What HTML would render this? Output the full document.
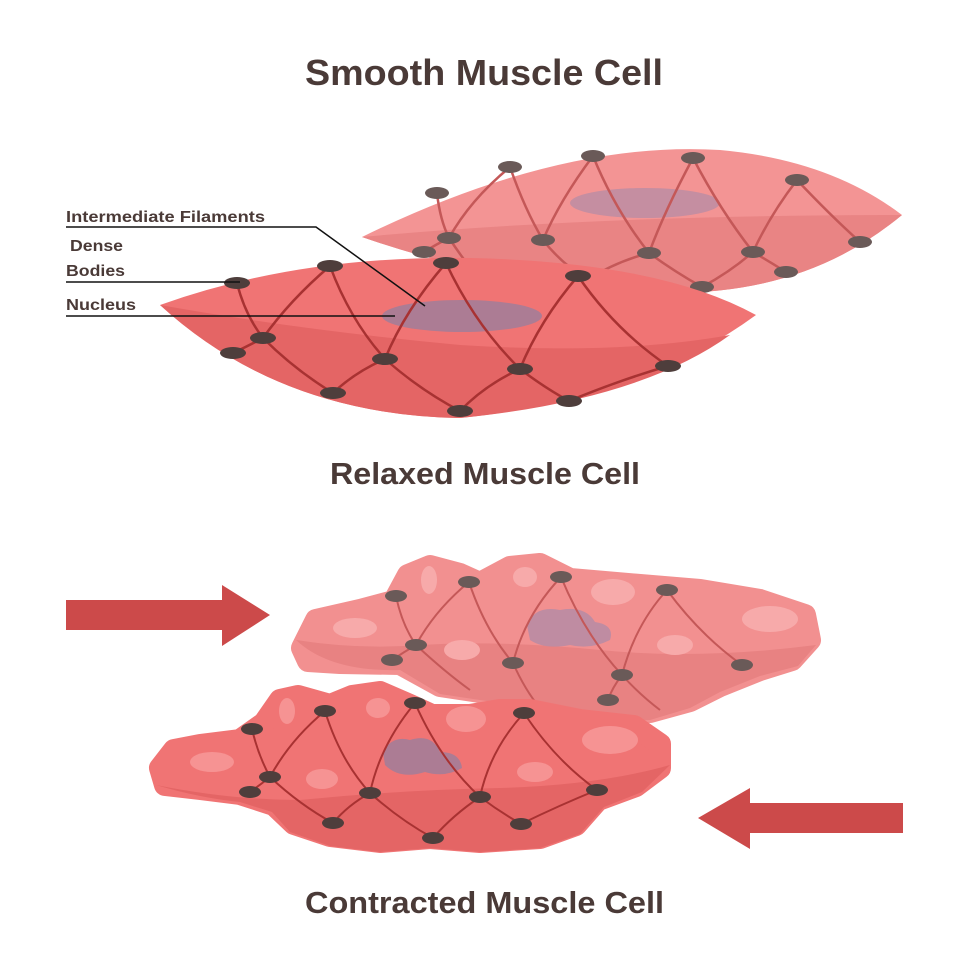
<!DOCTYPE html>
<html><head><meta charset="utf-8"><style>
html,body{margin:0;padding:0;background:#fff;}
svg{display:block;}
text{font-family:"Liberation Sans",sans-serif;font-weight:bold;fill:#4a3a37;}
</style></head><body>
<svg width="969" height="969" viewBox="0 0 969 969" xmlns="http://www.w3.org/2000/svg">
<rect width="969" height="969" fill="#fff"/>
<text x="305" y="85" font-size="36" textLength="358" lengthAdjust="spacingAndGlyphs">Smooth Muscle Cell</text>
<text x="330" y="484" font-size="31" textLength="310" lengthAdjust="spacingAndGlyphs">Relaxed Muscle Cell</text>
<text x="305" y="913" font-size="31" textLength="359" lengthAdjust="spacingAndGlyphs">Contracted Muscle Cell</text>

<!-- back relaxed cell -->
<path d="M362,237 Q560,140 720,150 Q830,160 902,215 Q800,300 650,292 Q500,285 362,237Z" fill="#f39494"/>
<path d="M362,237 Q600,215 902,215 Q800,300 650,292 Q500,285 362,237Z" fill="#e98484"/>
<ellipse cx="645" cy="203" rx="75" ry="15" fill="#b98ca4" opacity="0.8"/>
<g stroke="#c45858" stroke-width="2.5" fill="none">
<path d="M437,193 Q440,220 449,238 M510,167 Q470,200 449,238 M510,167 Q525,210 543,240 M593,156 Q560,200 543,240 M593,156 Q615,210 649,253 M693,158 Q665,210 649,253 M693,158 Q720,210 753,252 M797,180 Q770,215 753,252 M797,180 Q830,215 860,242 M449,238 Q435,245 424,252 M449,238 Q465,262 480,280 M543,240 Q560,262 587,280 M649,253 Q615,262 587,280 M649,253 Q675,272 702,287 M753,252 Q730,272 702,287 M753,252 Q770,262 786,272"/>
</g>
<g fill="#6a5a58">
<ellipse cx="437" cy="193" rx="12" ry="6"/><ellipse cx="510" cy="167" rx="12" ry="6"/><ellipse cx="593" cy="156" rx="12" ry="6"/><ellipse cx="693" cy="158" rx="12" ry="6"/><ellipse cx="797" cy="180" rx="12" ry="6"/><ellipse cx="449" cy="238" rx="12" ry="6"/><ellipse cx="543" cy="240" rx="12" ry="6"/><ellipse cx="649" cy="253" rx="12" ry="6"/><ellipse cx="753" cy="252" rx="12" ry="6"/><ellipse cx="860" cy="242" rx="12" ry="6"/><ellipse cx="424" cy="252" rx="12" ry="6"/><ellipse cx="702" cy="287" rx="12" ry="6"/><ellipse cx="786" cy="272" rx="12" ry="6"/>
</g>

<!-- front relaxed cell -->
<path d="M160,305 Q300,255 470,258 Q660,262 756,315 Q640,400 460,418 Q280,415 160,305Z" fill="#f07474"/>
<path d="M160,305 Q300,330 460,345 Q620,355 730,335 Q640,400 460,418 Q280,415 160,305Z" fill="#e46565"/>
<ellipse cx="462" cy="316" rx="80" ry="16" fill="#ac7c94"/>
<g stroke="#a83232" stroke-width="2.5" fill="none">
<path d="M237,283 Q245,315 263,338 M330,266 Q290,300 263,338 M330,266 Q350,320 385,359 M446,263 Q405,310 385,359 M446,263 Q475,325 520,369 M578,276 Q540,320 520,369 M578,276 Q615,330 668,366 M263,338 Q248,346 233,353 M263,338 Q295,370 333,393 M385,359 Q355,372 333,393 M385,359 Q420,390 460,411 M520,369 Q485,385 460,411 M520,369 Q545,388 569,401 M668,366 Q620,380 569,401"/>
</g>
<g fill="#4e3e3c">
<ellipse cx="237" cy="283" rx="13" ry="6"/><ellipse cx="330" cy="266" rx="13" ry="6"/><ellipse cx="446" cy="263" rx="13" ry="6"/><ellipse cx="578" cy="276" rx="13" ry="6"/><ellipse cx="263" cy="338" rx="13" ry="6"/><ellipse cx="385" cy="359" rx="13" ry="6"/><ellipse cx="520" cy="369" rx="13" ry="6"/><ellipse cx="668" cy="366" rx="13" ry="6"/><ellipse cx="233" cy="353" rx="13" ry="6"/><ellipse cx="333" cy="393" rx="13" ry="6"/><ellipse cx="460" cy="411" rx="13" ry="6"/><ellipse cx="569" cy="401" rx="13" ry="6"/>
</g>

<!-- labels -->
<g font-size="16">
<text x="66" y="222" textLength="199" lengthAdjust="spacingAndGlyphs">Intermediate Filaments</text>
<text x="70" y="251" textLength="53" lengthAdjust="spacingAndGlyphs">Dense</text>
<text x="66" y="276" textLength="59" lengthAdjust="spacingAndGlyphs">Bodies</text>
<text x="66" y="310" textLength="70" lengthAdjust="spacingAndGlyphs">Nucleus</text>
</g>
<g stroke="#111" stroke-width="1.5" fill="none">
<path d="M66,227 L316,227 L425,306"/>
<path d="M66,282 L240,282"/>
<path d="M66,316 L395,316"/>
</g>

<!-- arrows -->
<path d="M66,600 L222,600 L222,585 L270,615 L222,646 L222,630 L66,630Z" fill="#cc4a4a"/>
<path d="M903,803 L750,803 L750,788 L698,818 L750,849 L750,833 L903,833Z" fill="#cc4a4a"/>

<!-- back contracted cell -->
<polygon points="302,648 316,620 360,610 394,601 408,575 430,566 460,574 480,583 510,567 540,564 570,579 640,585 700,590 760,600 805,615 810,640 792,660 760,670 720,686 690,701 650,712 600,714 560,704 440,686 400,664 340,663 308,661" fill="#f29090" stroke="#f29090" stroke-width="22" stroke-linejoin="round"/>
<path d="M296,640 Q330,672 400,670 L440,694 L560,712 L600,722 L650,720 L690,708 L720,692 L760,676 L798,666 L816,645 Q700,660 600,650 Q500,640 420,645 Q360,650 296,640Z" fill="#e88282"/>
<g fill="#f7aaaa">
<ellipse cx="355" cy="628" rx="22" ry="10"/><ellipse cx="429" cy="580" rx="8" ry="14"/><ellipse cx="525" cy="577" rx="12" ry="10"/><ellipse cx="613" cy="592" rx="22" ry="13"/><ellipse cx="770" cy="619" rx="28" ry="13"/><ellipse cx="462" cy="650" rx="18" ry="10"/><ellipse cx="675" cy="645" rx="18" ry="10"/>
</g>
<path d="M527,625 Q535,605 560,610 Q585,605 595,622 Q615,625 610,640 Q590,650 570,645 Q545,650 530,640Z" fill="#b98ca4" opacity="0.9"/>
<g stroke="#c45858" stroke-width="2" fill="none">
<path d="M396,596 Q402,625 416,645 M469,582 Q435,610 416,645 M469,582 Q485,630 513,663 M561,577 Q525,615 513,663 M561,577 Q585,635 622,675 M667,590 Q635,625 622,675 M667,590 Q700,635 742,665 M416,645 Q404,652 392,660 M416,645 Q445,672 470,690 M513,663 Q525,690 540,708 M622,675 Q612,688 608,700 M622,675 Q640,695 660,710"/>
</g>
<g fill="#6a5a58">
<ellipse cx="396" cy="596" rx="11" ry="6"/><ellipse cx="469" cy="582" rx="11" ry="6"/><ellipse cx="561" cy="577" rx="11" ry="6"/><ellipse cx="667" cy="590" rx="11" ry="6"/><ellipse cx="416" cy="645" rx="11" ry="6"/><ellipse cx="392" cy="660" rx="11" ry="6"/><ellipse cx="513" cy="663" rx="11" ry="6"/><ellipse cx="622" cy="675" rx="11" ry="6"/><ellipse cx="742" cy="665" rx="11" ry="6"/><ellipse cx="608" cy="700" rx="11" ry="6"/>
</g>

<!-- front contracted cell -->
<polygon points="160,768 174,750 200,745 240,740 264,723 280,700 298,696 330,705 352,696 380,692 410,705 432,715 470,715 500,710 530,710 580,720 634,726 660,744 660,768 636,786 598,800 576,825 540,838 480,842 430,838 380,842 330,836 294,824 274,805 240,794 200,789 165,785" fill="#f07474" stroke="#f07474" stroke-width="22" stroke-linejoin="round"/>
<path d="M156,785 Q200,798 240,802 L272,812 L290,832 L330,846 L380,852 L430,848 L480,852 L540,848 L580,834 L604,807 L642,792 L670,765 Q600,785 500,788 Q400,790 300,800 Q230,800 156,785Z" fill="#e46565"/>
<g fill="#f69393">
<ellipse cx="212" cy="762" rx="22" ry="10"/><ellipse cx="287" cy="711" rx="8" ry="13"/><ellipse cx="378" cy="708" rx="12" ry="10"/><ellipse cx="466" cy="719" rx="20" ry="13"/><ellipse cx="610" cy="740" rx="28" ry="14"/><ellipse cx="322" cy="779" rx="16" ry="10"/><ellipse cx="535" cy="772" rx="18" ry="10"/>
</g>
<path d="M383,752 Q392,735 410,740 Q432,733 440,752 Q460,752 462,768 Q445,778 425,772 Q400,780 385,765Z" fill="#ac7c94"/>
<g stroke="#a83232" stroke-width="2" fill="none">
<path d="M252,729 Q258,755 270,777 M325,711 Q290,740 270,777 M325,711 Q340,760 370,793 M415,703 Q380,745 370,793 M415,703 Q440,760 480,797 M524,713 Q490,750 480,797 M524,713 Q555,760 597,790 M270,777 Q260,785 250,792 M270,777 Q300,805 333,823 M370,793 Q348,805 333,823 M370,793 Q400,820 433,838 M480,797 Q453,815 433,838 M480,797 Q500,812 521,824 M597,790 Q560,805 521,824"/>
</g>
<g fill="#4e3e3c">
<ellipse cx="252" cy="729" rx="11" ry="6"/><ellipse cx="325" cy="711" rx="11" ry="6"/><ellipse cx="415" cy="703" rx="11" ry="6"/><ellipse cx="524" cy="713" rx="11" ry="6"/><ellipse cx="270" cy="777" rx="11" ry="6"/><ellipse cx="250" cy="792" rx="11" ry="6"/><ellipse cx="370" cy="793" rx="11" ry="6"/><ellipse cx="480" cy="797" rx="11" ry="6"/><ellipse cx="597" cy="790" rx="11" ry="6"/><ellipse cx="333" cy="823" rx="11" ry="6"/><ellipse cx="433" cy="838" rx="11" ry="6"/><ellipse cx="521" cy="824" rx="11" ry="6"/>
</g>
</svg>
</body></html>
